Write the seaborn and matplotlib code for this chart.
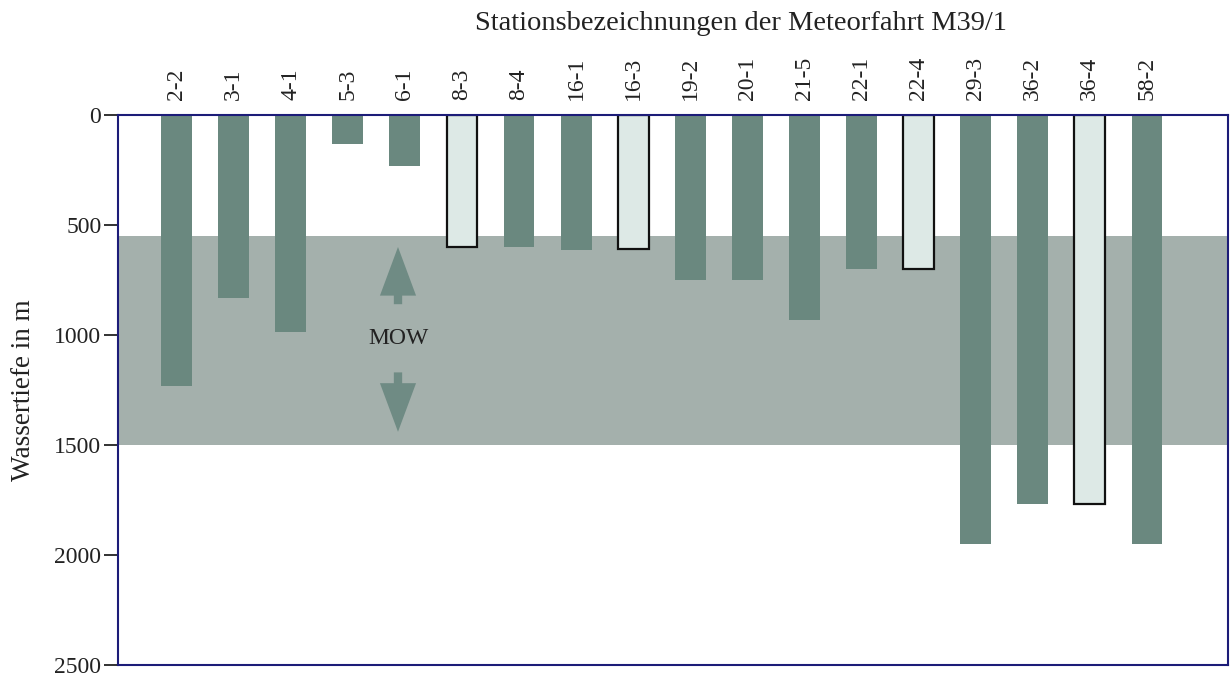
import matplotlib
matplotlib.use("Agg")
import matplotlib.pyplot as plt
import seaborn as sns
import pandas as pd

# Stations of cruise M39/1 and the sampled water depth (m)
stations = ["2-2", "3-1", "4-1", "5-3", "6-1", "8-3", "8-4", "16-1", "16-3",
            "19-2", "20-1", "21-5", "22-1", "22-4", "29-3", "36-2", "36-4", "58-2"]
depths = [1230, 830, 985, 130, 230, 600, 600, 615, 610,
          750, 750, 930, 700, 700, 1950, 1770, 1770, 1950]
# highlighted stations (light bars with outline)
highlighted = ["8-3", "16-3", "22-4", "36-4"]

# depth range of the Mediterranean Outflow Water (MOW)
mow_top = 550
mow_bottom = 1500
y_ticks = [0, 500, 1000, 1500, 2000, 2500]

dark = "#6a887f"
light = "#dde9e6"
band = "#a4b0ac"
arrow_col = "#6f8b84"
frame = "#1c1c78"
txt = "#222222"

df = pd.DataFrame({"station": stations, "depth": depths})
df["kind"] = ["hl" if s in highlighted else "std" for s in stations]

sns.set_style("white")
plt.rcParams["font.family"] = ["Liberation Serif", "DejaVu Serif"]

fig = plt.figure(figsize=(12.31, 6.73), dpi=100)
ax = fig.add_axes([118 / 1231, 1 - 665 / 673, 1110 / 1231, 550 / 673])

sns.barplot(data=df, x="station", y="depth", hue="kind",
            palette={"std": dark, "hl": light}, dodge=False,
            width=0.54, legend=False, ax=ax, zorder=3, saturation=1)

# outline only the highlighted stations
for patch in ax.patches:
    idx = int(round(patch.get_x() + patch.get_width() / 2))
    if 0 <= idx < len(stations) and stations[idx] in highlighted:
        patch.set_edgecolor("#111111")
        patch.set_linewidth(1.6)
    else:
        patch.set_edgecolor("none")

ax.axhspan(mow_top, mow_bottom, color=band, zorder=1, lw=0)

# MOW arrows and label
arrow_x = 3.88
style = "simple,head_length=3.5,head_width=2.6,tail_width=0.6"
for tip, tail in [(600, 860), (1440, 1170)]:
    ax.annotate("", xy=(arrow_x, tip), xytext=(arrow_x, tail),
                arrowprops=dict(arrowstyle=style, color=arrow_col, lw=0,
                                shrinkA=0, shrinkB=0), zorder=4)
ax.text(arrow_x, 1015, "MOW", ha="center", va="center", fontsize=17,
        color=txt, zorder=5)

ax.set_xlim(-1.025, 18.42)
ax.set_ylim(2500, 0)
ax.set_yticks(y_ticks)
ax.set_yticklabels([str(v) for v in y_ticks], fontsize=17, color=txt)
ax.tick_params(axis="y", left=True, length=10, width=1.3, color=txt, pad=2)

ax.xaxis.tick_top()
ax.tick_params(axis="x", top=False, bottom=False, length=0, pad=11,
               labelsize=17, labelcolor=txt)
for lab in ax.get_xticklabels():
    lab.set_rotation(90)
    lab.set_va("bottom")
    lab.set_ha("center")

ax.set_xlabel("")
ax.set_ylabel("")
fig.text(24 / 1231, 1 - 390 / 673, "Wassertiefe in m", rotation=90,
         ha="center", va="center", fontsize=19.5, color=txt)

for side in ["left", "right", "top", "bottom"]:
    ax.spines[side].set_visible(True)
    ax.spines[side].set_color(frame)
    ax.spines[side].set_linewidth(1.5)
    ax.spines[side].set_zorder(6)

fig.text(741 / 1231, 1 - 24 / 673, "Stationsbezeichnungen der Meteorfahrt M39/1",
         ha="center", va="center", fontsize=20.5, color=txt)

fig.savefig("out.png", dpi=100, facecolor="white")
